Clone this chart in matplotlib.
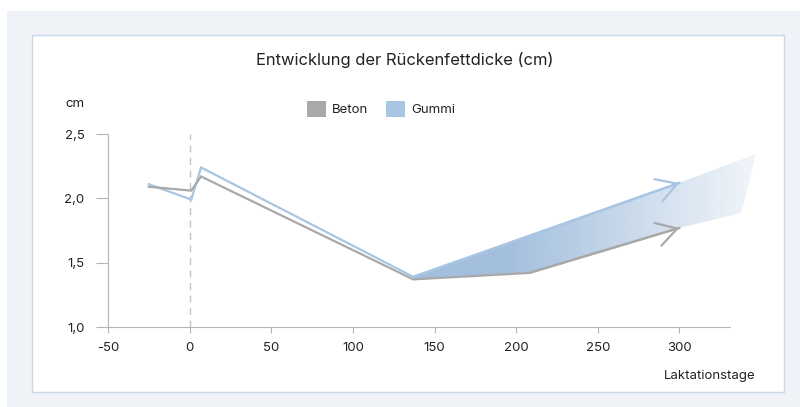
import numpy as np
import matplotlib
matplotlib.use('Agg')
import matplotlib.pyplot as plt
from matplotlib.patches import Rectangle, Polygon, Patch
from matplotlib.colors import to_rgb

plt.rcParams['font.family'] = ['Inter', 'DejaVu Sans']

# backfat thickness (cm) over lactation days
beton_days = [-25, 1, 7, 137, 208, 300]
beton_cm = [2.09, 2.06, 2.17, 1.37, 1.42, 1.77]
gummi_days = [-25, 1, 7, 137, 300]
gummi_cm = [2.11, 1.99, 2.24, 1.39, 2.12]

# projected band past the last measurement
band_top_days = [137, 300, 347]
band_top_cm = [1.39, 2.12, 2.345]
band_bottom_days = [338, 300, 208, 137]
band_bottom_cm = [1.886, 1.77, 1.42, 1.37]

xticks = [-50, 0, 50, 100, 150, 200, 250, 300]
yticks = [1.0, 1.5, 2.0, 2.5]
ytick_labels = ['1,0', '1,5', '2,0', '2,5']

gray = '#a9a9a9'
blue = '#a8c5e3'
band_color = '#a3bfdd'

W, H = 800, 407
fig = plt.figure(figsize=(W / 100, H / 100), dpi=100, facecolor='white')

# panel backgrounds
fig.patches.append(Rectangle((7 / W, 0), 1, 1 - 11 / H, transform=fig.transFigure,
                             facecolor='#eff3f8', edgecolor='none', zorder=-3))
fig.patches.append(Rectangle((32 / W, 1 - 392 / H), (784 - 32) / W, (392 - 35) / H,
                             transform=fig.transFigure, facecolor='white',
                             edgecolor='#c9d9ea', linewidth=1, zorder=-2))

ax = fig.add_axes([108 / W, 1 - 327 / H, 622 / W, 193 / H])
ax.set_facecolor('none')

# gradient band clipped to the polygon
poly = Polygon(list(zip(band_top_days + band_bottom_days, band_top_cm + band_bottom_cm)),
               closed=True, transform=ax.transData)
gx = np.linspace(137, 347, 400)
alpha = np.clip(1 - 0.85 * (gx - 195) / (347 - 195), 0.13, 1.0)
img = np.zeros((2, len(gx), 4))
img[..., :3] = to_rgb(band_color)
img[..., 3] = alpha
im = ax.imshow(img, extent=[137, 347, 1.3, 2.4], aspect='auto', origin='lower',
               interpolation='bilinear', zorder=1)
im.set_clip_box(fig.bbox)
im.set_clip_path(poly)

ax.axvline(0, color='#c4c4c4', lw=1, ls=(0, (5, 4)), zorder=0)

ax.plot(beton_days, beton_cm, color=gray, lw=1.6, zorder=3, solid_joinstyle='miter')
ax.plot(gummi_days, gummi_cm, color=blue, lw=1.6, zorder=2, solid_joinstyle='miter')

head = '->,head_length=1.45,head_width=0.85'
for days, cm, c in [(beton_days, beton_cm, gray), (gummi_days, gummi_cm, blue)]:
    ax.annotate('', xy=(days[-1], cm[-1]), xytext=(days[-2], cm[-2]),
                arrowprops=dict(arrowstyle=head, color=c, lw=1.6, shrinkA=0, shrinkB=0,
                                mutation_scale=10), zorder=4)

ax.set_xlim(-48, 331)
ax.set_ylim(1.0, 2.5)
ax.set_xticks(xticks)
ax.set_xticklabels([str(t) for t in xticks])
ax.set_yticks(yticks)
ax.set_yticklabels(ytick_labels)
for s in ['top', 'right']:
    ax.spines[s].set_visible(False)
for s in ['left', 'bottom']:
    ax.spines[s].set_color('#b5b5b5')
    ax.spines[s].set_linewidth(0.8)
ax.tick_params(axis='y', length=9, width=0.8, color='#b5b5b5', pad=8,
               labelsize=9.5, labelcolor='#222222')
ax.tick_params(axis='x', length=4.5, width=0.8, color='#b5b5b5', pad=6,
               labelsize=9.5, labelcolor='#222222')

fig.text(405 / W, 1 - 60 / H, 'Entwicklung der Rückenfettdicke (cm)', ha='center',
         va='center', fontsize=11.9, color='#222222')
fig.text(75 / W, 1 - 104 / H, 'cm', ha='center', va='center', fontsize=9.5,
         color='#222222')
fig.text(710 / W, 1 - 376 / H, 'Laktationstage', ha='center', va='center',
         fontsize=9.5, color='#222222')

handles = [Patch(facecolor=gray, edgecolor='none', label='Beton'),
           Patch(facecolor=blue, edgecolor='none', label='Gummi')]
fig.legend(handles=handles, loc='center', bbox_to_anchor=(381 / W, 1 - 109 / H),
           bbox_transform=fig.transFigure, ncol=2, frameon=False, fontsize=9.5,
           handlelength=1.45, handleheight=1.45, handletextpad=0.45,
           columnspacing=1.3, borderpad=0, labelcolor='#222222')

fig.savefig('out.png', dpi=100, facecolor='white')
